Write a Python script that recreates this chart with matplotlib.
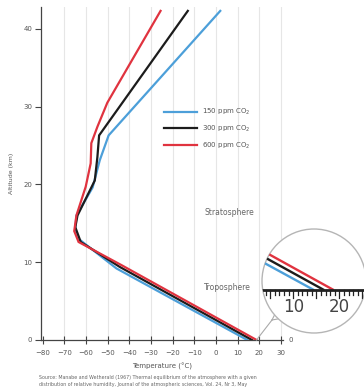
import matplotlib
matplotlib.use("Agg")
from matplotlib import pyplot as plt
from matplotlib.patches import Circle
from matplotlib.lines import Line2D

# Radiative-convective equilibrium profiles (Manabe & Wetherald 1967)
temp_150 = [14.5, -46, -63.5, -65, -64.5, -57, -53.7, -49.6, 2]
alt_150 = [0, 9.2, 13, 14.3, 16, 19.6, 23.1, 26.3, 42.3]

temp_300 = [16.7, -44.5, -62.5, -65, -64, -56, -54.8, -54, -13]
alt_300 = [0, 9.4, 12.6, 14.5, 16, 20.5, 23.5, 26.3, 42.3]

temp_600 = [18.8, -43.5, -63.5, -65.5, -64.5, -60.2, -57.9, -57.6, -54.8, -50.2, -25.6]
alt_600 = [0, 9.6, 12.6, 14, 16, 19.7, 22.7, 25.3, 27.4, 30.5, 42.3]

labels = ["150 ppm CO$_2$", "300 ppm CO$_2$", "600 ppm CO$_2$"]
colors = ["#4c9fd9", "#1c1c1c", "#e0333f"]

x_ticks = list(range(-80, 31, 10))
y_ticks = [0, 10, 20, 30, 40]

W, H = 364, 392
fig = plt.figure(figsize=(W / 100, H / 100), dpi=100)
ax = fig.add_axes([40.7 / W, 52 / H, 242.3 / W, 333 / H])

ax.set_xlim(-81, 31)
ax.set_ylim(0, 42.8)

for x in x_ticks[1:]:
    ax.axvline(x, color="#e6e6e6", lw=0.8, zorder=0)

series = [(temp_150, alt_150), (temp_300, alt_300), (temp_600, alt_600)]
for (t, z), c, lab in zip(series, colors, labels):
    ax.plot(t, z, color=c, lw=1.6, label=lab, solid_joinstyle="miter", zorder=3)

for side in ["top", "right"]:
    ax.spines[side].set_visible(False)
for side in ["left", "bottom"]:
    ax.spines[side].set_color("#444444")
    ax.spines[side].set_linewidth(0.9)

ax.set_xticks(x_ticks)
ax.set_yticks(y_ticks)
ax.tick_params(axis="x", direction="inout", length=6, width=0.8, colors="#444444",
               labelsize=5, labelcolor="#555555", pad=4)
ax.tick_params(axis="y", direction="out", length=4, width=0.8, colors="#444444",
               labelsize=5, labelcolor="#555555", pad=2)
ax.text(1.03, 0, "0", transform=ax.transAxes, fontsize=5, color="#555555",
        va="center", ha="center")

ax.set_xlabel("Temperature (°C)", fontsize=5, color="#555555", labelpad=5)
ax.set_ylabel("Altitude (km)", fontsize=4.5, color="#555555", labelpad=7)

ax.legend(loc="upper left", bbox_to_anchor=(0.495, 0.71), frameon=False,
          fontsize=5, handlelength=4.8, handletextpad=0.6, labelspacing=0.95,
          borderpad=0, labelcolor="#555555")

ax.text(-5.5, 16.4, "Stratosphere", fontsize=5.5, color="#666666", va="center")
ax.text(-5.5, 6.7, "Troposphere", fontsize=5.5, color="#666666", va="center")

# magnifier on the surface temperatures
cx, cy, r = 314, 281, 52
ring = Circle((cx / 100, (H - cy) / 100), r / 100, transform=fig.dpi_scale_trans,
              facecolor="white", edgecolor="#b5b5b5", lw=1.0, zorder=5)
fig.add_artist(ring)

ins = fig.add_axes([(cx - r) / W, (H - cy - r) / H, 2 * r / W, 2 * r / H], zorder=6)
ins.patch.set_visible(False)
ins.set_xlim(3.2, 25.8)
ins.set_ylim(-2.6, 3.7)
ins.axis("off")
clip = Circle((0.5, 0.5), 0.5, transform=ins.transAxes)
for (t, z), c in zip(series, colors):
    ln, = ins.plot(t, z, color=c, lw=1.7, solid_capstyle="butt")
    ln.set_clip_path(clip)
base, = ins.plot([-10, 40], [0, 0], color="#222222", lw=2)
base.set_clip_path(clip)
for d in range(0, 31):
    tl = 0.5 if d % 5 == 0 else 0.32
    tk, = ins.plot([d, d], [0, -tl], color="#222222", lw=0.9)
    tk.set_clip_path(clip)
for d in (10, 20):
    ins.text(d, -0.5, str(d), ha="center", va="top", fontsize=12, color="#444444",
             family=["Liberation Sans Narrow", "DejaVu Sans"])

# leader line from the surface point to the magnifier
fig.add_artist(Line2D([256.5 / W, 272 / W], [(H - 340) / H, (H - 320) / H],
                      color="#aaaaaa", lw=0.8))
fig.add_artist(Line2D([272 / W, 276 / W], [(H - 320) / H, (H - 312) / H],
                      color="#aaaaaa", lw=0.8))
fig.add_artist(Line2D([272 / W, 283 / W], [(H - 320) / H, (H - 318) / H],
                      color="#aaaaaa", lw=0.8))

fig.text(39 / W, (H - 381) / H,
         "Source: Manabe and Wetherald (1967) Thermal equilibrium of the atmosphere with a given\n"
         "distribution of relative humidity, Journal of the atmospheric sciences, Vol. 24, Nr 3, May",
         fontsize=3.4, color="#666666", va="center", linespacing=1.3)

fig.savefig("out.png", dpi=100)
